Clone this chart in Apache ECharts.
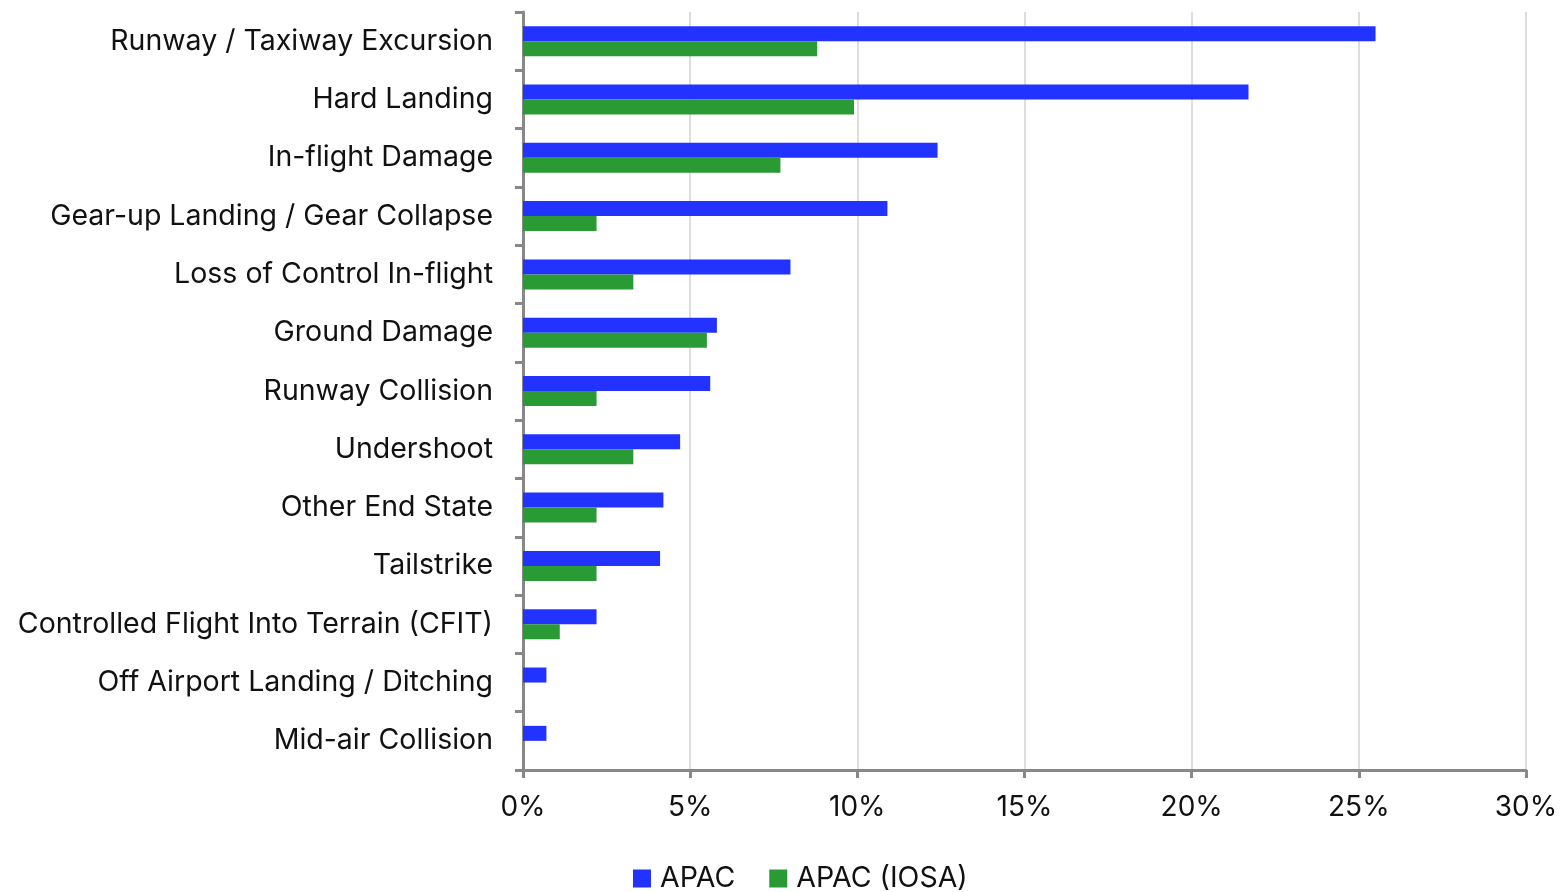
<!DOCTYPE html>
<html>
<head>
<meta charset="utf-8">
<script src="https://cdn.jsdelivr.net/npm/echarts@6/dist/echarts.min.js"></script>
<style>
  html, body { margin: 0; padding: 0; background: #fff; }
  #chart { width: 1563px; height: 892px; }
</style>
</head>
<body>
<div id="chart"></div>
<script>
// categories from top to bottom
var categories = [
  'Runway / Taxiway Excursion',
  'Hard Landing',
  'In-flight Damage',
  'Gear-up Landing / Gear Collapse',
  'Loss of Control In-flight',
  'Ground Damage',
  'Runway Collision',
  'Undershoot',
  'Other End State',
  'Tailstrike',
  'Controlled Flight Into Terrain (CFIT)',
  'Off Airport Landing / Ditching',
  'Mid-air Collision'
];
var apac = [25.5, 21.7, 12.4, 10.9, 8.0, 5.8, 5.6, 4.7, 4.2, 4.1, 2.2, 0.7, 0.7];
var apacIosa = [8.8, 9.9, 7.7, 2.2, 3.3, 5.5, 2.2, 3.3, 2.2, 2.2, 1.1, 0, 0];
var seriesNames = ['APAC', 'APAC (IOSA)'];

var font = 'Inter, "Noto Sans", sans-serif';
var chart = echarts.init(document.getElementById('chart'));
var option = {
  animation: false,
  textStyle: { fontFamily: font },
  grid: { left: 523, right: 37, top: 12, bottom: 122, containLabel: false },
  legend: {
    data: seriesNames,
    bottom: -6,
    left: 628,
    itemWidth: 18,
    itemHeight: 18,
    itemGap: 34,
    icon: 'rect',
    textStyle: { fontSize: 28.5, color: '#111', fontFamily: font, padding: [0, 0, 0, 4] }
  },
  xAxis: {
    type: 'value',
    min: 0,
    max: 30,
    interval: 5,
    axisLine: { show: true, lineStyle: { color: '#888', width: 3 } },
    axisTick: { show: true, length: 8, lineStyle: { color: '#888', width: 3 } },
    axisLabel: { formatter: '{value}%', fontSize: 28, color: '#111', margin: 24 },
    splitLine: { show: true, lineStyle: { color: '#ddd', width: 2 } }
  },
  yAxis: {
    type: 'category',
    data: categories,
    inverse: true,
    axisLine: { show: true, lineStyle: { color: '#888', width: 3 } },
    axisTick: { show: true, length: 8, lineStyle: { color: '#888', width: 3 } },
    axisLabel: { fontSize: 28.5, color: '#111', margin: 30 },
    splitLine: { show: false }
  },
  series: [
    {
      name: seriesNames[0],
      type: 'bar',
      data: apac,
      barWidth: 15,
      barGap: '0%',
      itemStyle: { color: '#2233ff' }
    },
    {
      name: seriesNames[1],
      type: 'bar',
      data: apacIosa,
      barWidth: 15,
      barGap: '0%',
      itemStyle: { color: '#2a9a35' }
    }
  ]
};
chart.setOption(option);
</script>
</body>
</html>
